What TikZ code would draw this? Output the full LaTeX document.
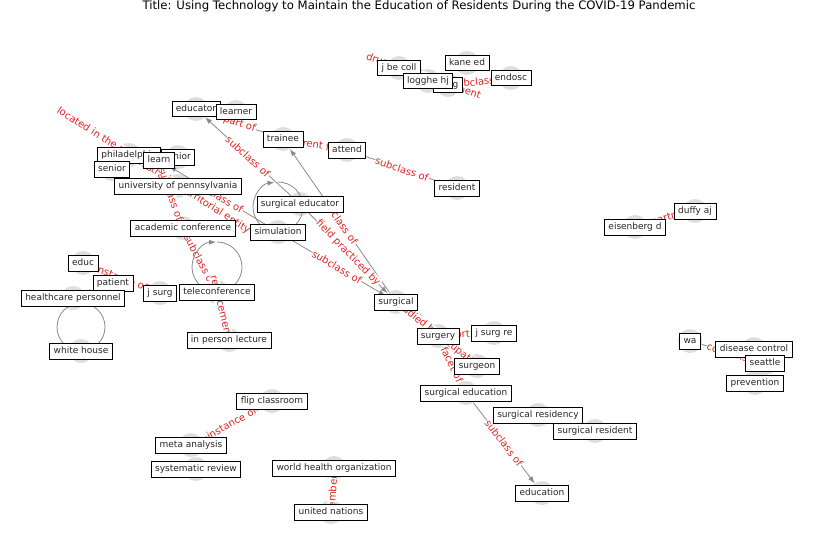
\documentclass[tikz,border=0pt]{standalone}
\usepackage{fontspec}
\setmainfont{DejaVu Sans}
\usetikzlibrary{arrows.meta}
\definecolor{edgegray}{HTML}{8A8A8A}
\definecolor{labelred}{HTML}{E02424}
\definecolor{dotgray}{HTML}{DEDEDE}
\definecolor{textdark}{HTML}{262626}

\begin{document}
\begin{tikzpicture}[x=1pt,y=-1pt,
        dot/.style={circle,fill=dotgray,minimum size=24pt,inner sep=0pt},
        tag/.style={draw=black,fill=white,line width=0.8pt,text=textdark,
            font=\fontsize{9}{9}\selectfont,inner xsep=4pt,inner ysep=3.5pt,
            text height=6.8pt,text depth=2pt},
        link/.style={draw=edgegray,line width=0.8pt,-{Latex[length=7pt,width=5pt]}},
        loopline/.style={draw=edgegray,line width=0.8pt},
        rel/.style={font=\fontsize{10}{10}\selectfont,text=labelred,fill=white,
            inner sep=0.5pt,sloped,midway}]
        \useasboundingbox (0,0) rectangle (837,559);

        \node[font=\fontsize{11.7}{13}\selectfont] (title) at (419,6)
            {Title: Using Technology to Maintain the Education of Residents During the COVID-19 Pandemic};

        % node markers
        \node[dot] (educator) at (196,109) {};
        \node[dot] (learner) at (236,112) {};
        \node[dot] (trainee) at (283,139) {};
        \node[dot] (attend) at (347,150) {};
        \node[dot] (resident) at (457,188) {};
        \node[dot] (jbecoll) at (399,68) {};
        \node[dot] (kaneed) at (467,63) {};
        \node[dot] (drug) at (448,85) {};
        \node[dot] (logghe) at (428,81) {};
        \node[dot] (endosc) at (511,78) {};
        \node[dot] (philadelphia) at (129,155) {};
        \node[dot] (junior) at (178,157) {};
        \node[dot] (learn) at (159,160) {};
        \node[dot] (senior) at (112,169) {};
        \node[dot] (upenn) at (178,186) {};
        \node[dot] (academic) at (183,228) {};
        \node[dot] (surgedu) at (300,204) {};
        \node[dot] (simulation) at (278,232) {};
        \node[dot] (educ) at (83,263) {};
        \node[dot] (patient) at (113,283) {};
        \node[dot] (healthcare) at (73,298) {};
        \node[dot] (jsurg) at (160,293) {};
        \node[dot] (teleconf) at (217,292) {};
        \node[dot] (inperson) at (229,340) {};
        \node[dot] (whitehouse) at (81,351) {};
        \node[dot] (surgical) at (396,302) {};
        \node[dot] (surgery) at (438,336) {};
        \node[dot] (jsurgre) at (494,333) {};
        \node[dot] (surgeon) at (477,366) {};
        \node[dot] (surgeducation) at (466,393) {};
        \node[dot] (residency) at (538,415) {};
        \node[dot] (surgresident) at (595,431) {};
        \node[dot] (education) at (542,493) {};
        \node[dot] (eisenberg) at (635,227) {};
        \node[dot] (duffy) at (695,211) {};
        \node[dot] (wa) at (690,341) {};
        \node[dot] (diseasecontrol) at (754,349) {};
        \node[dot] (seattle) at (765,363) {};
        \node[dot] (prevention) at (755,383) {};
        \node[dot] (flip) at (272,401) {};
        \node[dot] (meta) at (191,445) {};
        \node[dot] (sysreview) at (196,469) {};
        \node[dot] (who) at (334,468) {};
        \node[dot] (un) at (331,512) {};

        % relations
        \draw[link] (surgedu) -- node[rel] {subclass of} (educator);
        \draw[link] (surgical) -- node[rel] {subclass of} (trainee);
        \draw[link] (surgedu) -- node[rel] {field practiced by} (surgical);
        \draw[link] (simulation) -- node[rel] {subclass of} (surgical);
        \draw[link] (simulation) -- node[rel] {subclass of} (learn);
        \draw[link] (upenn) -- node[rel] {located in the administrative territorial entity} (philadelphia);
        \draw[link] (academic) -- node[rel] {subclass of} (learn);
        \draw[link] (teleconf) -- node[rel] {subclass of} (academic);
        \draw[link] (teleconf) -- node[rel,pos=0.12] {replacement} (inperson);
        \draw[link] (educ) -- node[rel] {instance of} (jsurg);
        \draw[link] (patient) -- (healthcare);
        \draw[link] (eisenberg) -- node[rel,pos=0.62] {partner} (duffy);
        \draw[link] (wa) -- node[rel] {contains} (seattle);
        \draw[link] (meta) -- node[rel] {instance of} (flip);
        \draw[link] (who) -- node[rel] {member of} (un);
        \draw[link] (surgeon) -- node[rel] {field of this occupation} (surgical);
        \draw[link] (surgery) -- node[rel] {studied by} (surgical);
        \draw[link] (surgeducation) -- node[rel] {facet of} (surgery);
        \draw[link] (surgeducation) -- node[rel] {subclass of} (education);
        \draw[link] (surgery) -- node[rel] {part of} (jsurgre);
        \draw[link] (trainee) -- node[rel] {part of} (educator);
        \draw[link] (trainee) -- node[rel] {different from} (attend);
        \draw[link] (attend) -- node[rel] {subclass of} (resident);
        \draw[link] (jbecoll) -- node[rel] {drug used for treatment} (drug);
        \draw[link] (endosc) -- node[rel] {subclass of} (drug);

        % self loops
        \draw[loopline,-{Latex[length=7pt,width=5pt]}] (simulation.center) arc[start angle=90,end angle=262,radius=25];
        \draw[loopline] (simulation.center) arc[start angle=90,end angle=-90,radius=25];
        \draw[loopline,-{Latex[length=7pt,width=5pt]}] (teleconf.center) arc[start angle=90,end angle=268,radius=25];
        \draw[loopline] (teleconf.center) arc[start angle=90,end angle=-90,radius=25];
        \draw[loopline] (whitehouse.center) arc[start angle=90,end angle=450,radius=24];

        % labels
        \node[tag] (educator-t) at (educator) {educator};
        \node[tag] (learner-t) at (learner) {learner};
        \node[tag] (trainee-t) at (trainee) {trainee};
        \node[tag] (attend-t) at (attend) {attend};
        \node[tag] (resident-t) at (resident) {resident};
        \node[tag] (jbecoll-t) at (jbecoll) {j be coll};
        \node[tag] (kaneed-t) at (kaneed) {kane ed};
        \node[tag] (drug-t) at (drug) {drug};
        \node[tag] (logghe-t) at (logghe) {logghe hj};
        \node[tag] (endosc-t) at (endosc) {endosc};
        \node[tag] (philadelphia-t) at (philadelphia) {philadelphia};
        \node[tag] (junior-t) at (junior) {junior};
        \node[tag] (senior-t) at (senior) {senior};
        \node[tag] (learn-t) at (learn) {learn};
        \node[tag] (upenn-t) at (upenn) {university of pennsylvania};
        \node[tag] (academic-t) at (academic) {academic conference};
        \node[tag] (surgedu-t) at (surgedu) {surgical educator};
        \node[tag] (simulation-t) at (simulation) {simulation};
        \node[tag] (educ-t) at (educ) {educ};
        \node[tag] (patient-t) at (patient) {patient};
        \node[tag] (healthcare-t) at (healthcare) {healthcare personnel};
        \node[tag] (jsurg-t) at (jsurg) {j surg};
        \node[tag] (teleconf-t) at (teleconf) {teleconference};
        \node[tag] (inperson-t) at (inperson) {in person lecture};
        \node[tag] (whitehouse-t) at (whitehouse) {white house};
        \node[tag] (surgical-t) at (surgical) {surgical};
        \node[tag] (surgery-t) at (surgery) {surgery};
        \node[tag] (jsurgre-t) at (jsurgre) {j surg re};
        \node[tag] (surgeon-t) at (surgeon) {surgeon};
        \node[tag] (surgeducation-t) at (surgeducation) {surgical education};
        \node[tag] (residency-t) at (residency) {surgical residency};
        \node[tag] (surgresident-t) at (surgresident) {surgical resident};
        \node[tag] (education-t) at (education) {education};
        \node[tag] (eisenberg-t) at (eisenberg) {eisenberg d};
        \node[tag] (duffy-t) at (duffy) {duffy aj};
        \node[tag] (wa-t) at (wa) {wa};
        \node[tag] (diseasecontrol-t) at (diseasecontrol) {disease control};
        \node[tag] (seattle-t) at (seattle) {seattle};
        \node[tag] (prevention-t) at (prevention) {prevention};
        \node[tag] (flip-t) at (flip) {flip classroom};
        \node[tag] (meta-t) at (meta) {meta analysis};
        \node[tag] (sysreview-t) at (sysreview) {systematic review};
        \node[tag] (who-t) at (who) {world health organization};
        \node[tag] (un-t) at (un) {united nations};
    \end{tikzpicture}
\end{document}
